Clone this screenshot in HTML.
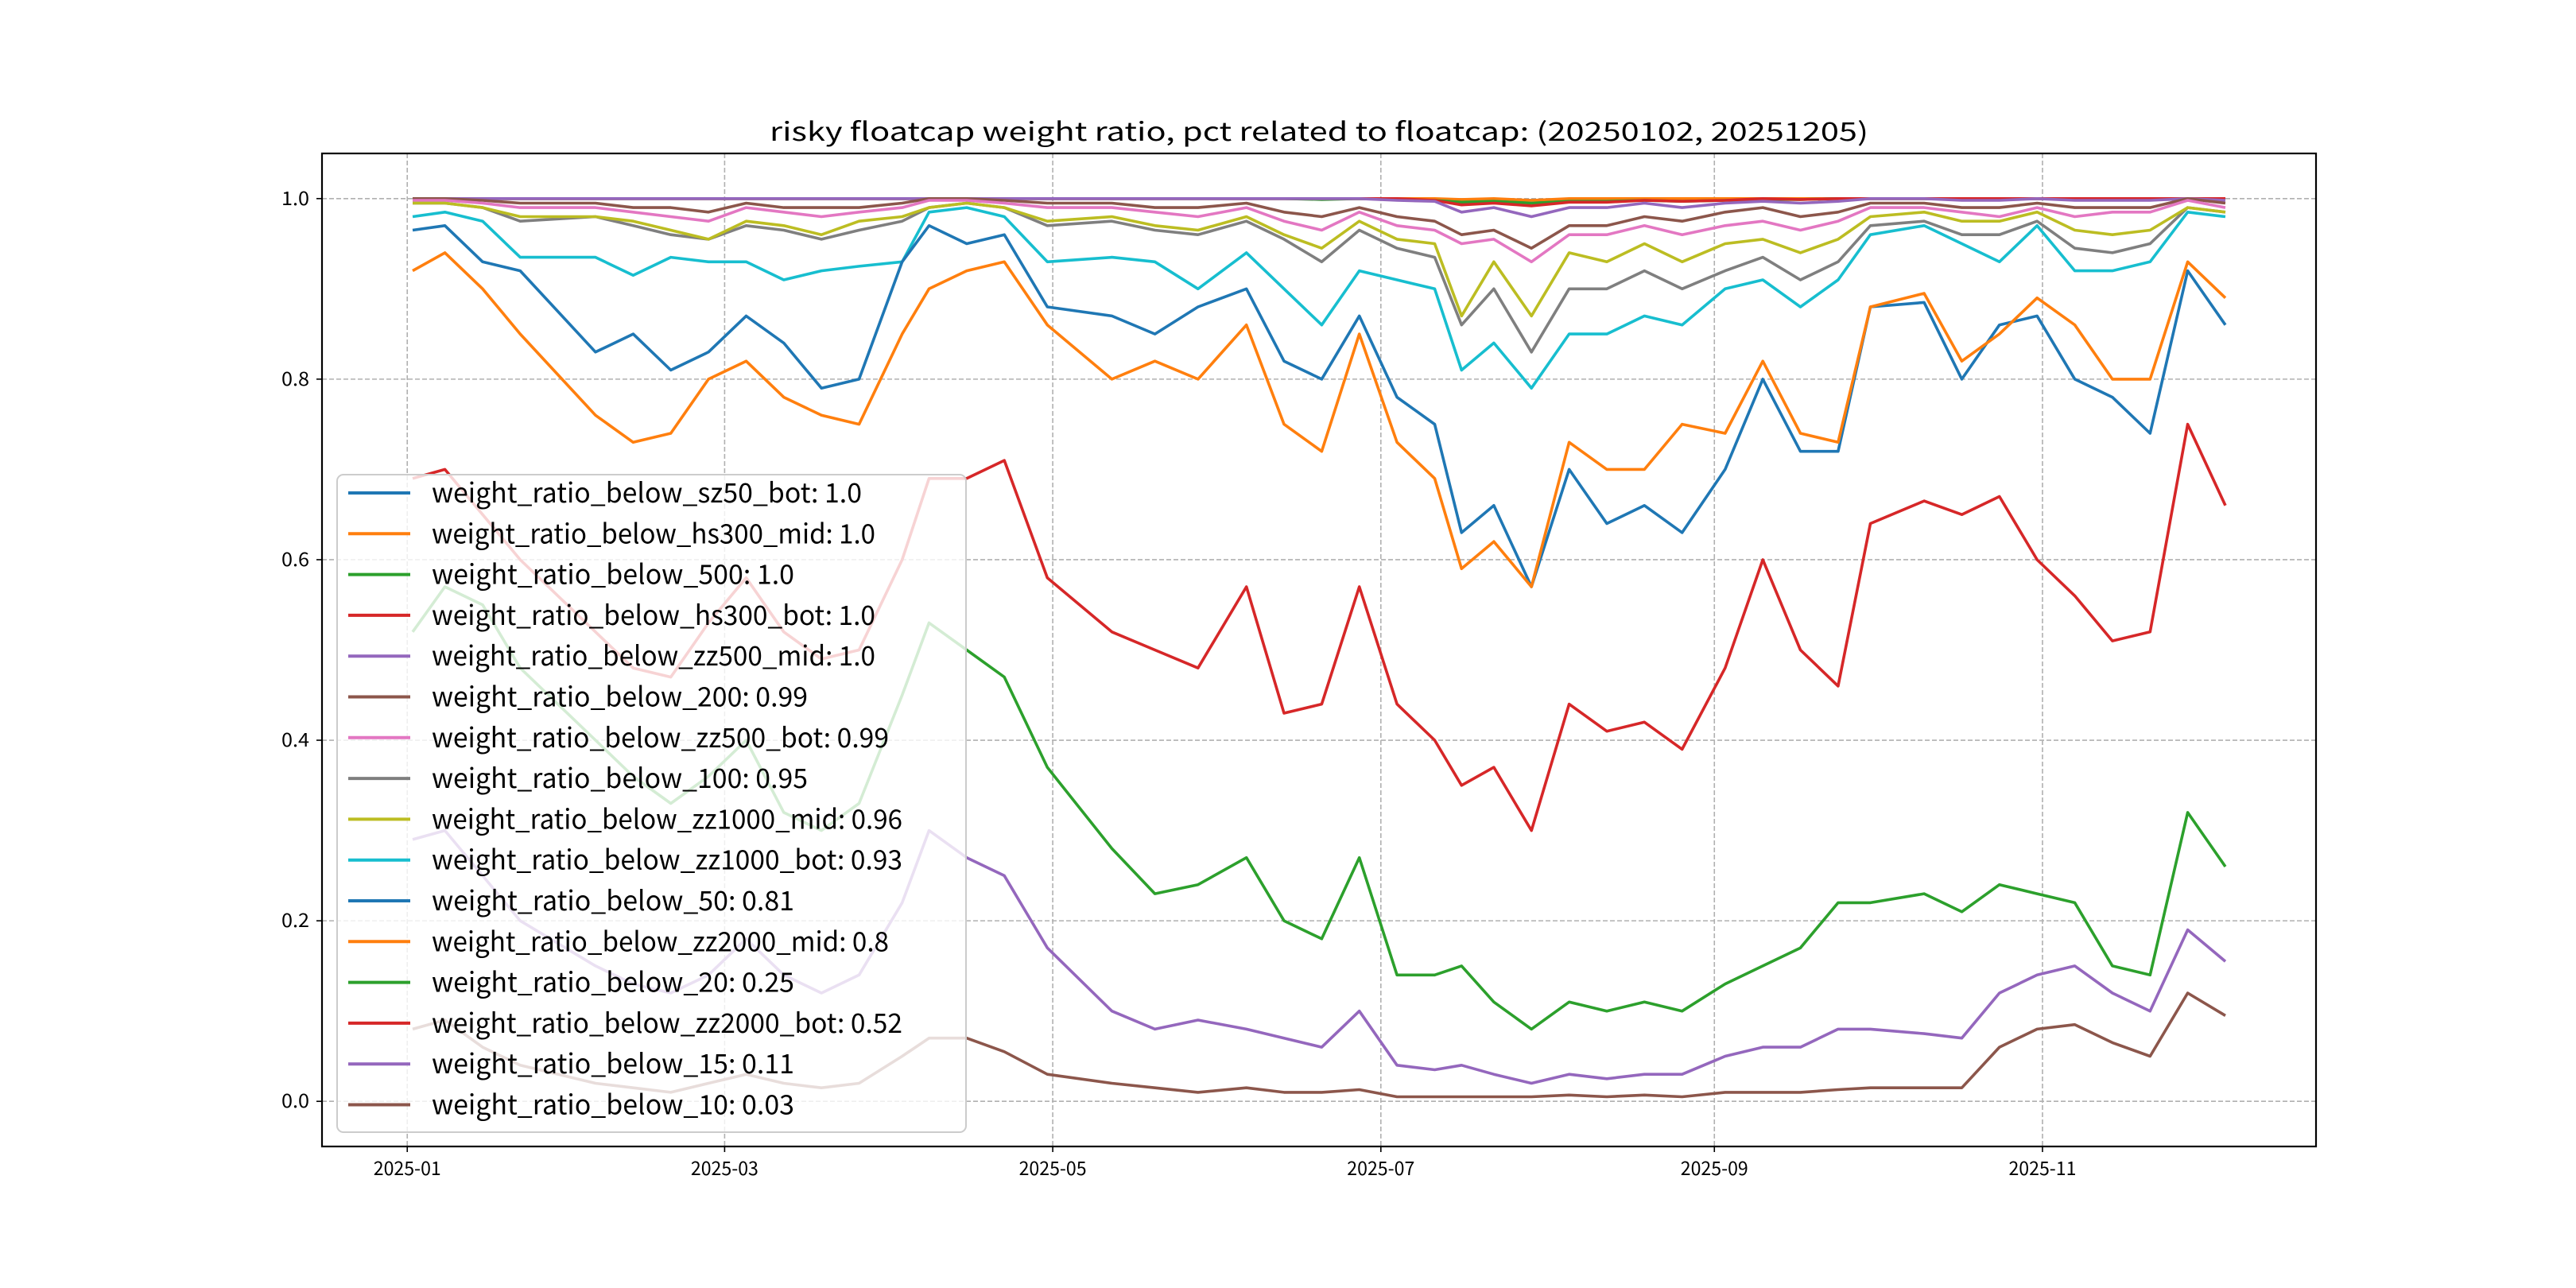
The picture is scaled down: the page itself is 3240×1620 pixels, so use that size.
<!DOCTYPE html>
<html><head><meta charset="utf-8">
<style>html,body{margin:0;padding:0;background:#fff;}svg{display:block;}</style>
</head><body>
<svg id="chart" xmlns="http://www.w3.org/2000/svg" width="3240" height="1620" viewBox="0 0 3240 1620">
<rect width="3240" height="1620" fill="#fff"/>
<g id="grid"></g>
<g id="series"></g>
<g id="axes"></g>
<g id="legend"></g>
</svg>
<script>
const dates = ["2025-01-02","2025-01-08","2025-01-15","2025-01-22","2025-02-05","2025-02-12","2025-02-19","2025-02-26","2025-03-05","2025-03-12",
"2025-03-19","2025-03-26","2025-04-03","2025-04-08","2025-04-15","2025-04-22","2025-04-30","2025-05-12","2025-05-20","2025-05-28",
"2025-06-06","2025-06-13","2025-06-20","2025-06-27","2025-07-04","2025-07-11","2025-07-16","2025-07-22","2025-07-29","2025-08-05",
"2025-08-12","2025-08-19","2025-08-26","2025-09-03","2025-09-10","2025-09-17","2025-09-24","2025-09-30","2025-10-10","2025-10-17",
"2025-10-24","2025-10-31","2025-11-07","2025-11-14","2025-11-21","2025-11-28","2025-12-05"];
const seriesNames = ["weight_ratio_below_sz50_bot: 1.0","weight_ratio_below_hs300_mid: 1.0","weight_ratio_below_500: 1.0","weight_ratio_below_hs300_bot: 1.0","weight_ratio_below_zz500_mid: 1.0","weight_ratio_below_200: 0.99","weight_ratio_below_zz500_bot: 0.99","weight_ratio_below_100: 0.95","weight_ratio_below_zz1000_mid: 0.96","weight_ratio_below_zz1000_bot: 0.93","weight_ratio_below_50: 0.81","weight_ratio_below_zz2000_mid: 0.8","weight_ratio_below_20: 0.25","weight_ratio_below_zz2000_bot: 0.52","weight_ratio_below_15: 0.11","weight_ratio_below_10: 0.03"];
const colors = ["#1f77b4","#ff7f0e","#2ca02c","#d62728","#9467bd","#8c564b","#e377c2","#7f7f7f","#bcbd22","#17becf","#1f77b4","#ff7f0e","#2ca02c","#d62728","#9467bd","#8c564b"];
const sz50Bot = [1,1,1,1,1,1,1,1,1,1, 1,1,1,1,1,1,1,1,1,1, 1,1,1,1,1,0.999,0.998,0.999,0.998,0.999, 0.999,1,0.999,1,1,1,1,1,1,1, 1,1,1,1,1,1,1];
const hs300Mid = [1,1,1,1,1,1,1,1,1,1, 1,1,1,1,1,1,1,1,1,1, 1,1,1,1,1,1,0.999,1,0.998,1, 1,1,1,1,1,1,1,1,1,1, 1,1,1,1,1,1,1];
const below500 = [1,1,1,1,1,1,1,1,1,1, 1,1,1,1,1,1,1,1,1,1, 1,1,0.999,1,0.999,0.998,0.996,0.997,0.995,0.997, 0.997,0.998,0.997,0.998,0.999,0.999,1,1,1,1, 1,1,1,1,1,1,1];
const hs300Bot = [1,1,1,1,1,1,1,1,1,1, 1,1,1,1,1,1,1,1,1,1, 1,1,1,1,1,0.998,0.993,0.995,0.992,0.996, 0.996,0.998,0.997,0.998,1,0.999,1,1,1,1, 1,1,1,1,1,1,1];
const zz500Mid = [1,1,1,1,1,1,1,1,1,1, 1,1,1,1,1,1,1,1,1,1, 1,1,1,1,0.998,0.997,0.985,0.99,0.98,0.99, 0.99,0.995,0.99,0.995,0.997,0.995,0.997,1,1,0.998, 0.998,1,0.998,0.998,0.998,1,0.998];
const below200 = [1,1,0.998,0.995,0.995,0.99,0.99,0.985,0.995,0.99, 0.99,0.99,0.995,1,1,0.998,0.995,0.995,0.99,0.99, 0.995,0.985,0.98,0.99,0.98,0.975,0.96,0.965,0.945,0.97, 0.97,0.98,0.975,0.985,0.99,0.98,0.985,0.995,0.995,0.99, 0.99,0.995,0.99,0.99,0.99,1,0.995];
const zz500Bot = [0.998,0.998,0.995,0.99,0.99,0.985,0.98,0.975,0.99,0.985, 0.98,0.985,0.99,0.998,0.998,0.995,0.99,0.99,0.985,0.98, 0.99,0.975,0.965,0.985,0.97,0.965,0.95,0.955,0.93,0.96, 0.96,0.97,0.96,0.97,0.975,0.965,0.975,0.99,0.99,0.985, 0.98,0.99,0.98,0.985,0.985,0.998,0.99];
const below100 = [0.995,0.995,0.99,0.975,0.98,0.97,0.96,0.955,0.97,0.965, 0.955,0.965,0.975,0.99,0.995,0.99,0.97,0.975,0.965,0.96, 0.975,0.955,0.93,0.965,0.945,0.935,0.86,0.90,0.83,0.90, 0.90,0.92,0.90,0.92,0.935,0.91,0.93,0.97,0.975,0.96, 0.96,0.975,0.945,0.94,0.95,0.99,0.985];
const zz1000Mid = [0.995,0.995,0.99,0.98,0.98,0.975,0.965,0.955,0.975,0.97, 0.96,0.975,0.98,0.99,0.995,0.99,0.975,0.98,0.97,0.965, 0.98,0.96,0.945,0.975,0.955,0.95,0.87,0.93,0.87,0.94, 0.93,0.95,0.93,0.95,0.955,0.94,0.955,0.98,0.985,0.975, 0.975,0.985,0.965,0.96,0.965,0.99,0.985];
const zz1000Bot = [0.98,0.985,0.975,0.935,0.935,0.915,0.935,0.93,0.93,0.91, 0.92,0.925,0.93,0.985,0.99,0.98,0.93,0.935,0.93,0.90, 0.94,0.90,0.86,0.92,0.91,0.90,0.81,0.84,0.79,0.85, 0.85,0.87,0.86,0.90,0.91,0.88,0.91,0.96,0.97,0.95, 0.93,0.97,0.92,0.92,0.93,0.985,0.98];
const below50 = [0.965,0.97,0.93,0.92,0.83,0.85,0.81,0.83,0.87,0.84, 0.79,0.80,0.93,0.97,0.95,0.96,0.88,0.87,0.85,0.88, 0.90,0.82,0.80,0.87,0.78,0.75,0.63,0.66,0.57,0.70, 0.64,0.66,0.63,0.70,0.80,0.72,0.72,0.88,0.885,0.80, 0.86,0.87,0.80,0.78,0.74,0.92,0.86];
const zz2000Mid = [0.92,0.94,0.90,0.85,0.76,0.73,0.74,0.80,0.82,0.78, 0.76,0.75,0.85,0.90,0.92,0.93,0.86,0.80,0.82,0.80, 0.86,0.75,0.72,0.85,0.73,0.69,0.59,0.62,0.57,0.73, 0.70,0.70,0.75,0.74,0.82,0.74,0.73,0.88,0.895,0.82, 0.85,0.89,0.86,0.80,0.80,0.93,0.89];
const below20 = [0.52,0.57,0.55,0.48,0.40,0.36,0.33,0.36,0.40,0.32, 0.30,0.33,0.45,0.53,0.50,0.47,0.37,0.28,0.23,0.24, 0.27,0.20,0.18,0.27,0.14,0.14,0.15,0.11,0.08,0.11, 0.10,0.11,0.10,0.13,0.15,0.17,0.22,0.22,0.23,0.21, 0.24,0.23,0.22,0.15,0.14,0.32,0.26];
const zz2000Bot = [0.69,0.70,0.65,0.60,0.52,0.48,0.47,0.53,0.58,0.52, 0.49,0.50,0.60,0.69,0.69,0.71,0.58,0.52,0.50,0.48, 0.57,0.43,0.44,0.57,0.44,0.40,0.35,0.37,0.30,0.44, 0.41,0.42,0.39,0.48,0.60,0.50,0.46,0.64,0.665,0.65, 0.67,0.60,0.56,0.51,0.52,0.75,0.66];
const below15 = [0.29,0.30,0.25,0.20,0.15,0.13,0.12,0.14,0.18,0.14, 0.12,0.14,0.22,0.30,0.27,0.25,0.17,0.10,0.08,0.09, 0.08,0.07,0.06,0.10,0.04,0.035,0.04,0.03,0.02,0.03, 0.025,0.03,0.03,0.05,0.06,0.06,0.08,0.08,0.075,0.07, 0.12,0.14,0.15,0.12,0.10,0.19,0.155];
const below10 = [0.08,0.09,0.06,0.04,0.02,0.015,0.01,0.02,0.03,0.02, 0.015,0.02,0.05,0.07,0.07,0.055,0.03,0.02,0.015,0.01, 0.015,0.01,0.01,0.013,0.005,0.005,0.005,0.005,0.005,0.007, 0.005,0.007,0.005,0.01,0.01,0.01,0.013,0.015,0.015,0.015, 0.06,0.08,0.085,0.065,0.05,0.12,0.095];
const xTickLabels = ["2025-01","2025-03","2025-05","2025-07","2025-09","2025-11"];
const yTickValues = [0.0,0.2,0.4,0.6,0.8,1.0];
const yTickLabels = ["0.0","0.2","0.4","0.6","0.8","1.0"];

const allSeries = [sz50Bot,hs300Mid,below500,hs300Bot,zz500Mid,below200,zz500Bot,below100,zz1000Mid,zz1000Bot,below50,zz2000Mid,below20,zz2000Bot,below15,below10];

const NS="http://www.w3.org/2000/svg";
const L=405,R=2913,T=193,B=1442;
const day=s=>Date.parse(s+"T00:00:00Z")/86400000;
const d0=day(dates[0]),d1=day(dates[dates.length-1]),pad=(d1-d0)*0.05;
const xs=d=>L+(day(d)-(d0-pad))/((d1+pad)-(d0-pad))*(R-L);
const yMin=-0.05,yMax=1.05;
const ys=v=>B-(v-yMin)/(yMax-yMin)*(B-T);
function mk(tag,attrs,parent){const e=document.createElementNS(NS,tag);for(const k in attrs)e.setAttribute(k,attrs[k]);parent.appendChild(e);return e;}
const gGrid=document.getElementById('grid'),gSer=document.getElementById('series'),gAx=document.getElementById('axes'),gLeg=document.getElementById('legend');
const FONT='"WenQuanYi Zen Hei","Noto Sans CJK SC",sans-serif';

xTickLabels.forEach(lbl=>{
  const x=xs(lbl+"-01");
  const gl=mk('line',{x1:x,x2:x,y1:T,y2:B,stroke:'#b0b0b0','stroke-width':1.6,'stroke-dasharray':'6,3'},gGrid);
  
  
  const tk=mk('line',{x1:x,x2:x,y1:B,y2:B+7,stroke:'#000','stroke-width':1.6},gAx);
  
  
  const t=mk('text',{x:x,y:B+36,'text-anchor':'middle','font-size':24,'font-family':FONT,textLength:85,lengthAdjust:'spacingAndGlyphs',fill:'#000'},gAx);
  t.textContent=lbl;
  
  
});
yTickValues.forEach((v,i)=>{
  const y=ys(v);
  const gl=mk('line',{x1:L,x2:R,y1:y,y2:y,stroke:'#b0b0b0','stroke-width':1.6,'stroke-dasharray':'6,3'},gGrid);
  
  
  const tk=mk('line',{x1:L-7,x2:L,y1:y,y2:y,stroke:'#000','stroke-width':1.6},gAx);
  
  
  const t=mk('text',{x:L-16,y:y+8,'text-anchor':'end','font-size':24,'font-family':FONT,textLength:35,lengthAdjust:'spacingAndGlyphs',fill:'#000'},gAx);
  t.textContent=yTickLabels[i];
  
  
});
allSeries.forEach((vals,si)=>{
  const pts=vals.map((v,i)=>xs(dates[i]).toFixed(1)+','+ys(v).toFixed(1)).join(' ');
  const p=mk('polyline',{points:pts,fill:'none',stroke:colors[si],'stroke-width':3.6,'stroke-linejoin':'round'},gSer);
  
  
});
const frame=mk('rect',{x:L,y:T,width:R-L,height:B-T,fill:'none',stroke:'#000','stroke-width':2.2},gAx);


const title=mk('text',{x:(L+R)/2,y:177,'text-anchor':'middle','font-size':32,'font-family':FONT,textLength:1382,lengthAdjust:'spacingAndGlyphs',fill:'#000'},gAx);
title.textContent='risky floatcap weight ratio, pct related to floatcap: (20250102, 20251205)';



const box=mk('rect',{x:424,y:597,width:791,height:827,rx:8,fill:'#fff','fill-opacity':0.8,stroke:'#cccccc','stroke-width':2},gLeg);


seriesNames.forEach((nm,i)=>{
  const y=620+i*51.3;
  const ln=mk('line',{x1:438,x2:516,y1:y,y2:y,stroke:colors[i],'stroke-width':4},gLeg);
  
  
  const t=mk('text',{x:543,y:y+12,'font-size':34,'font-family':FONT,textLength:(nm.length*16.9).toFixed(0),lengthAdjust:'spacingAndGlyphs',fill:'#000'},gLeg);
  t.textContent=nm;
  
  
});
</script>
</body></html>
